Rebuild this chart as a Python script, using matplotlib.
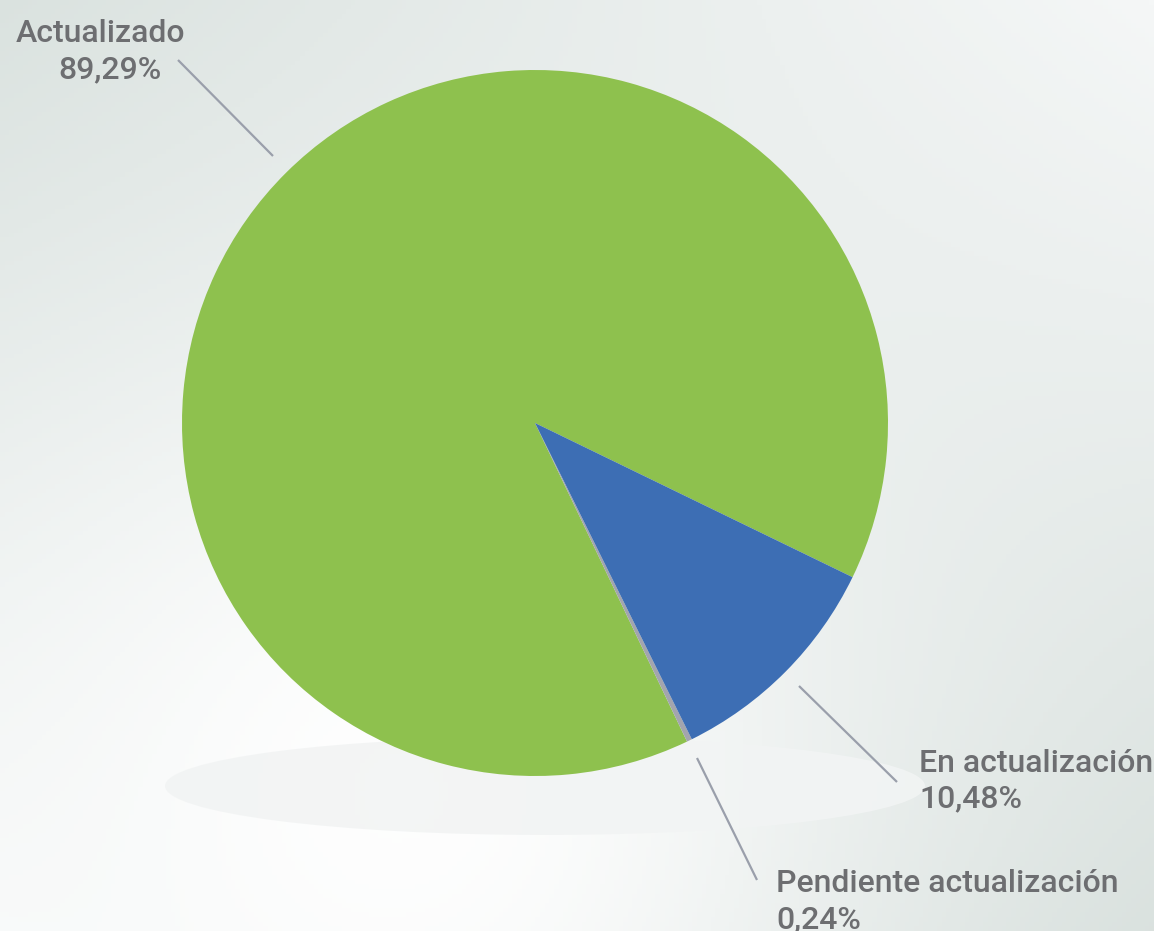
import numpy as np
import matplotlib
matplotlib.use("Agg")
import matplotlib.pyplot as plt
from matplotlib.patches import Ellipse
from matplotlib.colors import to_rgb

labels = ["Actualizado", "Pendiente actualización", "En actualización"]
values = [89.29, 0.24, 10.48]
pct_text = ["89,29%", "0,24%", "10,48%"]
colors = ["#8ec14e", "#a3a5ae", "#3d6eb4"]

W, H = 1154, 931
fig = plt.figure(figsize=(W / 100, H / 100), dpi=100)
ax = fig.add_axes([0, 0, 1, 1])

# background: soft grey-green corners fading to white
yy, xx = np.mgrid[0:1:200j, 0:1:250j]
c_tl = np.array(to_rgb("#dae2df"))
c_tr = np.array(to_rgb("#f5f7f7"))
c_bl = np.array(to_rgb("#f6f8f8"))
c_br = np.array(to_rgb("#d9e1de"))
bg = (c_tl * ((1 - xx) * (1 - yy))[..., None] + c_tr * (xx * (1 - yy))[..., None]
      + c_bl * ((1 - xx) * yy)[..., None] + c_br * (xx * yy)[..., None])
blob = np.exp(-(((xx - 0.35) / 0.35) ** 2 + ((yy - 0.85) / 0.45) ** 2))
bg = bg + (1 - bg) * blob[..., None] * 0.95
ax.imshow(np.clip(bg, 0, 1), extent=[0, W, 0, H], origin="upper", aspect="auto", zorder=0)

# floor shadow
ax.add_patch(Ellipse((545, H - 786), 760, 98, facecolor="#f2f4f4", edgecolor="none",
                     alpha=0.9, zorder=1))

cx, cy, r = 535, H - 423, 353
wedges, _ = ax.pie(values, colors=colors, startangle=-25.9, counterclock=True,
                   center=(cx, cy), radius=r, frame=True,
                   wedgeprops=dict(linewidth=0))
for w in wedges:
    w.set_zorder(2)

# leader lines (pixel coords from the top)
leaders = [((178, 60), (273, 156)), ((697, 758), (757, 880)), ((799, 686), (897, 782))]
for (x0, y0), (x1, y1) in leaders:
    ax.plot([x0, x1], [H - y0, H - y1], color="#9a9fab", lw=1.6, zorder=3,
            solid_capstyle="butt")

font = dict(family="Roboto", weight="medium", fontsize=23, color="#6d6e71", zorder=4)
# Actualizado
ax.text(185, H - 42, labels[0], ha="right", va="baseline", **font)
ax.text(162, H - 78, pct_text[0], ha="right", va="baseline", **font)
# En actualización
ax.text(919, H - 772, labels[2], ha="left", va="baseline", **font)
ax.text(919, H - 807, pct_text[2], ha="left", va="baseline", **font)
# Pendiente actualización
ax.text(776, H - 892, labels[1], ha="left", va="baseline", **font)
ax.text(776, H - 928, pct_text[1], ha="left", va="baseline", **font)

ax.set_xlim(0, W)
ax.set_ylim(0, H)
ax.set_aspect("auto")
ax.axis("off")

fig.savefig("out.png", dpi=100)
